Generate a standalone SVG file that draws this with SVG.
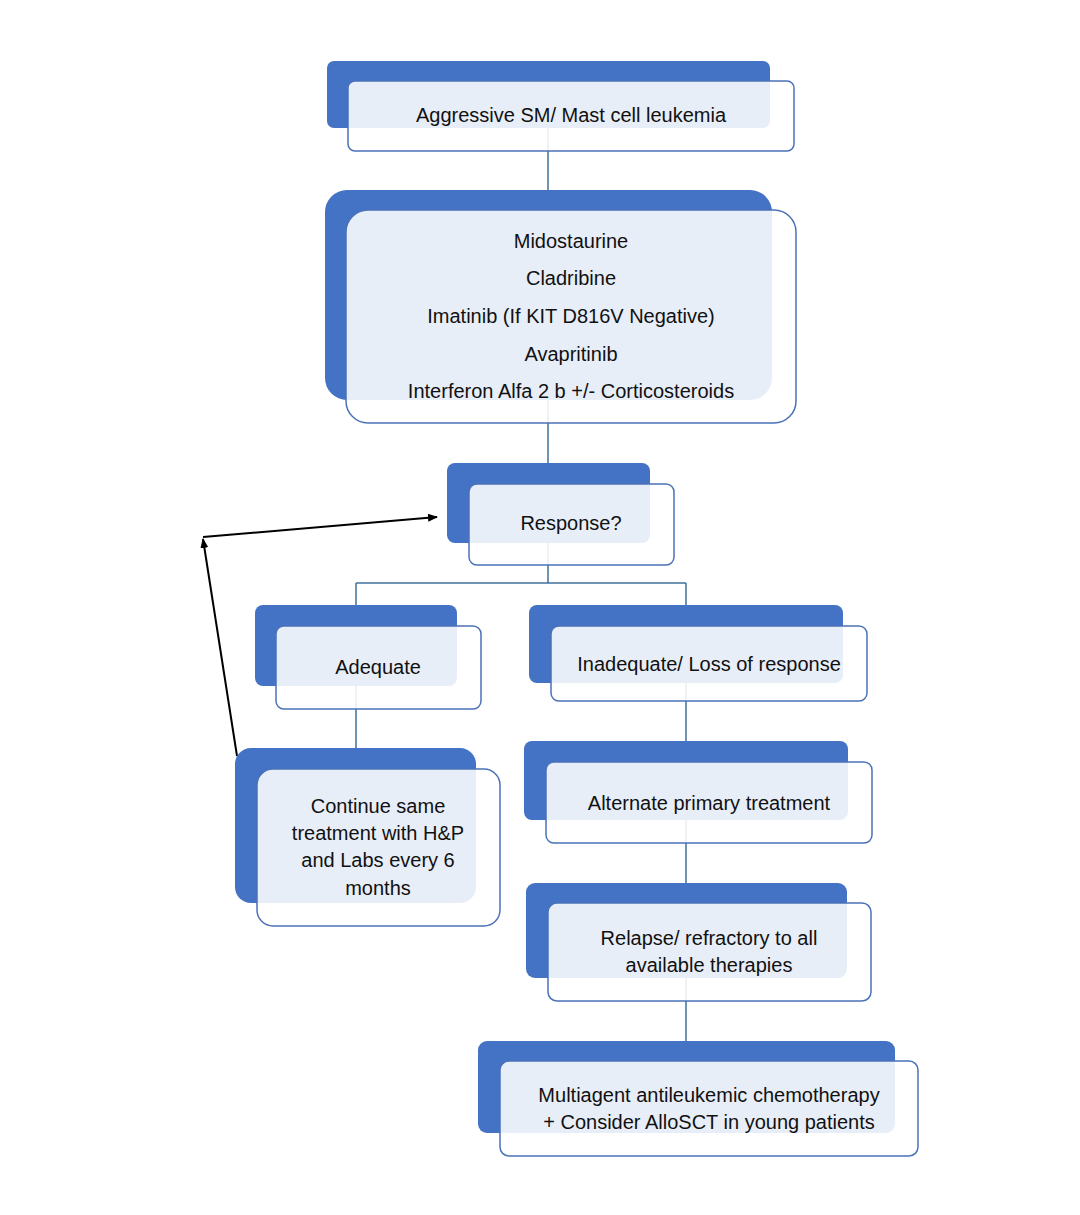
<svg xmlns="http://www.w3.org/2000/svg" width="1080" height="1215" viewBox="0 0 1080 1215">
<style>
.b{fill:#4472C4}
.f{fill:#fff;fill-opacity:.88;stroke:#4A72B8;stroke-width:1.5}
.c{stroke:#41719C;stroke-width:1.5;fill:none}
.a{stroke:#000;stroke-width:2;fill:none;marker-end:url(#m)}
text{font-family:"Liberation Sans",Arial,sans-serif;font-size:20px;fill:#111;text-anchor:middle}
</style>
<defs><marker id="m" markerWidth="10" markerHeight="8" refX="9" refY="4" orient="auto" markerUnits="userSpaceOnUse"><path d="M0,0L10,4L0,8z" fill="#000"/></marker></defs>
<rect width="1080" height="1215" fill="#fff"/>
<g id="connectors">
<path class="c" d="M548,128V190M548,400V463M548,543V583M356,583H686M356,583V605M686,583V605M356,686V748M686,683V741M686,820V883M686,978V1041"/>
<path class="a" d="M237,756L203,539"/>
<path class="a" d="M203,537L437,517"/>
</g>
<g id="n1"><rect class="b" x="327" y="61" width="443" height="67" rx="7"/><rect class="f" x="348" y="81" width="446" height="70" rx="7"/><text x="571" y="122">Aggressive SM/ Mast cell leukemia</text></g>
<g id="n2"><rect class="b" x="325" y="190" width="447" height="210" rx="22"/><rect class="f" x="346" y="210" width="450" height="213" rx="22"/><text x="571" y="248">Midostaurine</text><text x="571" y="285">Cladribine</text><text x="571" y="323">Imatinib (If KIT D816V Negative)</text><text x="571" y="361">Avapritinib</text><text x="571" y="398">Interferon Alfa 2 b +/- Corticosteroids</text></g>
<g id="n3"><rect class="b" x="447" y="463" width="203" height="80" rx="8"/><rect class="f" x="469" y="484" width="205" height="81" rx="8"/><text x="571" y="530">Response?</text></g>
<g id="n4"><rect class="b" x="255" y="605" width="202" height="81" rx="8"/><rect class="f" x="276" y="626" width="205" height="83" rx="8"/><text x="378" y="674">Adequate</text></g>
<g id="n5"><rect class="b" x="529" y="605" width="314" height="78" rx="8"/><rect class="f" x="551" y="626" width="316" height="75" rx="8"/><text x="709" y="671">Inadequate/ Loss of response</text></g>
<g id="n6"><rect class="b" x="235" y="748" width="241" height="155" rx="16"/><rect class="f" x="257" y="769" width="243" height="157" rx="16"/><text x="378" y="813">Continue same</text><text x="378" y="840">treatment with H&amp;P</text><text x="378" y="867">and Labs every 6</text><text x="378" y="895">months</text></g>
<g id="n7"><rect class="b" x="524" y="741" width="324" height="79" rx="8"/><rect class="f" x="546" y="762" width="326" height="81" rx="8"/><text x="709" y="810">Alternate primary treatment</text></g>
<g id="n8"><rect class="b" x="526" y="883" width="321" height="95" rx="9"/><rect class="f" x="548" y="903" width="323" height="98" rx="9"/><text x="709" y="945">Relapse/ refractory to all</text><text x="709" y="972">available therapies</text></g>
<g id="n9"><rect class="b" x="478" y="1041" width="417" height="92" rx="9"/><rect class="f" x="500" y="1061" width="418" height="95" rx="9"/><text x="709" y="1102">Multiagent antileukemic chemotherapy</text><text x="709" y="1129">+ Consider AlloSCT in young patients</text></g>
</svg>
